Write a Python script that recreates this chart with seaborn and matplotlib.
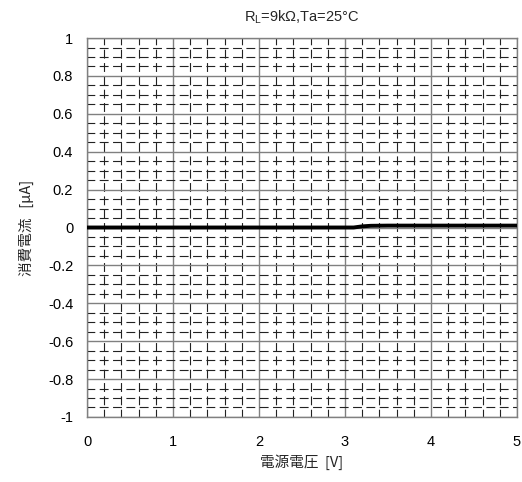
import matplotlib
matplotlib.use("Agg")
import matplotlib.pyplot as plt
from matplotlib.ticker import MultipleLocator, FixedLocator
import seaborn as sns
import pandas as pd

# Supply current vs. supply voltage
voltage = [0.0, 0.5, 1.0, 1.5, 2.0, 2.5, 3.0, 3.1, 3.2, 3.3, 3.5, 4.0, 4.5, 5.0]
current = [0.0, 0.0, 0.0, 0.0, 0.0, 0.0, 0.0, 0.0, 0.006, 0.009, 0.01, 0.01, 0.01, 0.01]

x_ticks = [0, 1, 2, 3, 4, 5]
y_ticks = [-1, -0.8, -0.6, -0.4, -0.2, 0, 0.2, 0.4, 0.6, 0.8, 1]
y_tick_labels = ["-1", "-0.8", "-0.6", "-0.4", "-0.2", "0", "0.2", "0.4", "0.6", "0.8", "1"]

df = pd.DataFrame({"V": voltage, "I": current})

sns.set_style("white")
plt.rcParams["font.family"] = ["Liberation Sans", "Noto Sans CJK JP", "DejaVu Sans"]

fig = plt.figure(figsize=(5.22, 4.82), dpi=100)
ax = fig.add_axes([0.1667, 0.135, 0.8237, 0.786])

ax.set_xlim(0, 5)
ax.set_ylim(-1, 1)
ax.xaxis.set_major_locator(FixedLocator(x_ticks))
ax.yaxis.set_major_locator(FixedLocator(y_ticks))
ax.set_yticklabels(y_tick_labels)
ax.xaxis.set_minor_locator(MultipleLocator(0.2))
ax.yaxis.set_minor_locator(MultipleLocator(0.05))

ax.grid(which="major", color="#808080", linestyle="-", linewidth=1.0, zorder=0)
ax.grid(which="minor", color="#222222", linestyle=(1, (8, 4)), linewidth=0.8, zorder=0)
ax.set_axisbelow(True)

sns.lineplot(data=df, x="V", y="I", ax=ax, color="black", linewidth=2.8, zorder=3)

for s in ax.spines.values():
    s.set_color("#808080")
    s.set_linewidth(1.0)

ax.tick_params(which="both", length=0, labelsize=10.5, colors="black")
ax.tick_params(axis="x", pad=13)
ax.tick_params(axis="y", pad=10)
ax.set_xlabel("電源電圧  [V]", fontsize=10.5, family=["Noto Sans CJK JP", "DejaVu Sans"], labelpad=4)
ax.set_ylabel("消費電流   [μA]", fontsize=10.5, family=["Noto Sans CJK JP", "DejaVu Sans"], labelpad=10)
ax.set_title("R$_\\mathregular{L}$=9kΩ,Ta=25°C", fontsize=10.5, pad=12)

fig.savefig("out.png", dpi=100)
